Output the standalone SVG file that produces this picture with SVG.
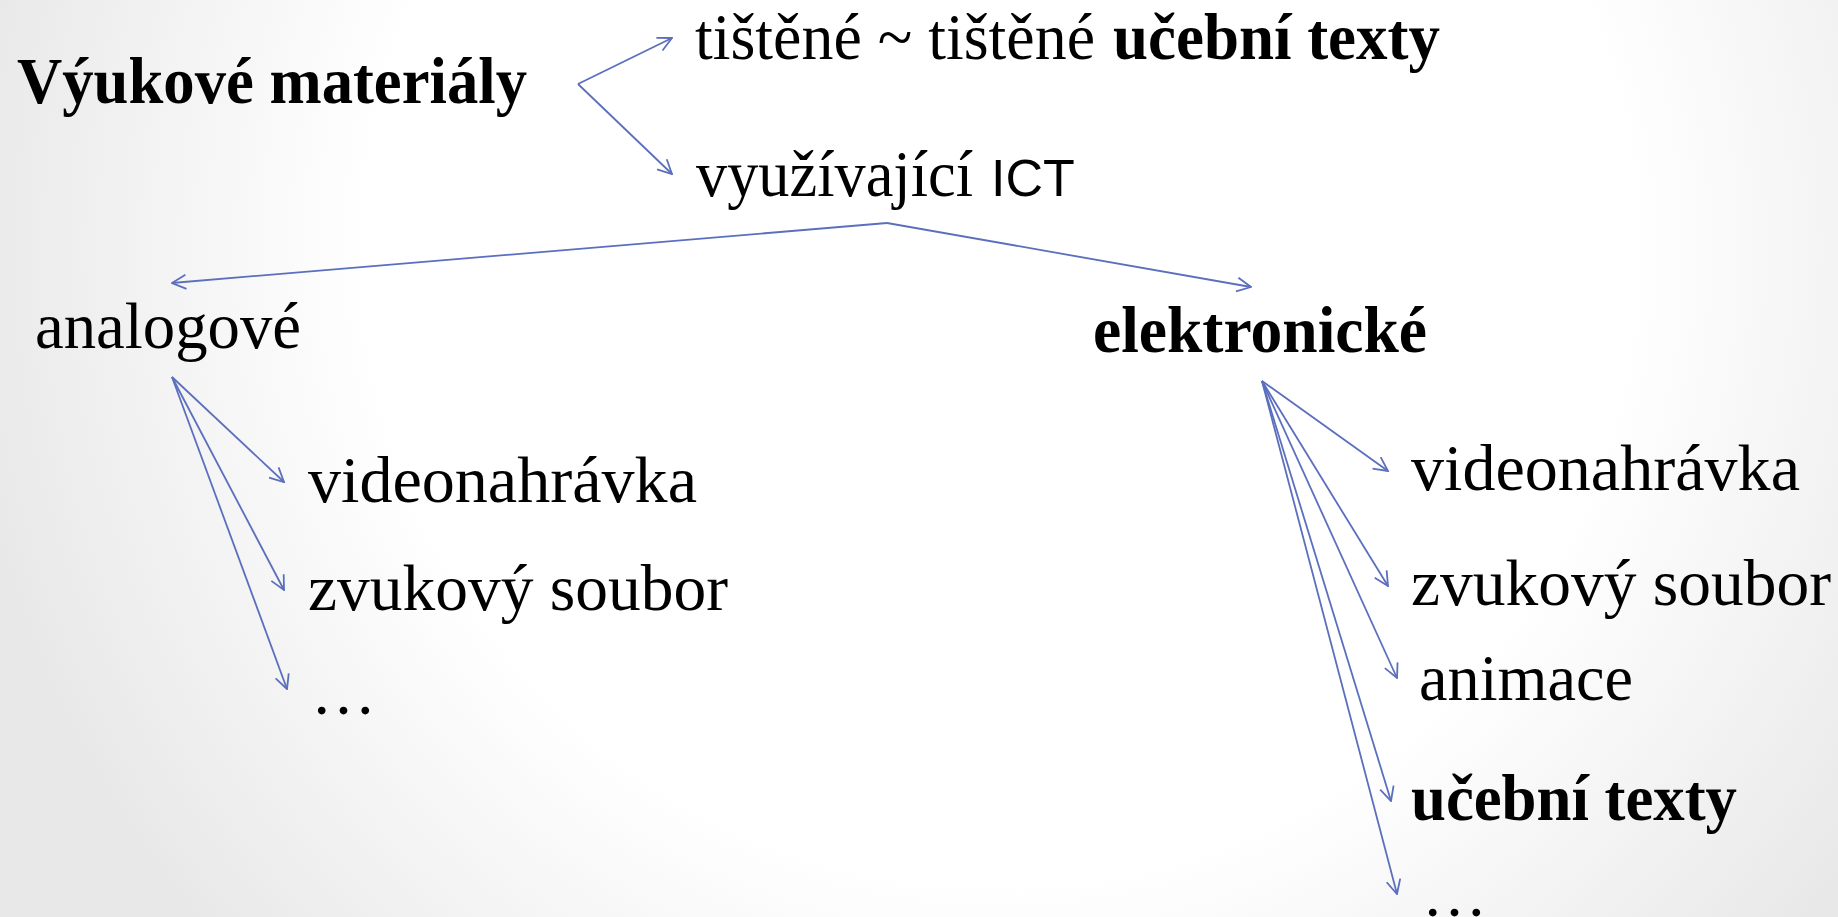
<svg xmlns="http://www.w3.org/2000/svg" width="1838" height="917" viewBox="0 0 1838 917">
<defs>
<radialGradient id="bg" gradientUnits="userSpaceOnUse" cx="1000" cy="250" r="1050">
<stop offset="0" stop-color="#ffffff"/>
<stop offset="0.6" stop-color="#ffffff"/>
<stop offset="1" stop-color="#e8e8e8"/>
</radialGradient>
<marker id="ah" viewBox="0 0 16 16" refX="15" refY="8" markerWidth="16" markerHeight="16" orient="auto" markerUnits="userSpaceOnUse">
<path d="M1,1 L15,8 L1,15" fill="none" stroke="#5b6fbd" stroke-width="1.8"/>
</marker>
<style>
.t{font-family:"Liberation Serif","Times New Roman",serif;font-size:65px;fill:#000}
.b{font-weight:bold}
.s{font-family:"Liberation Sans",Arial,sans-serif;font-size:52px;fill:#000}
.c{fill:none;stroke:#5b6fbd;stroke-width:1.8;marker-end:url(#ah)}
</style>
</defs>
<rect width="1838" height="917" fill="url(#bg)"/>
<g id="connectors">
<line class="c" x1="578" y1="84" x2="672" y2="38"/>
<line class="c" x1="578" y1="84" x2="672" y2="174"/>
<line class="c" x1="887" y1="223" x2="172" y2="283"/>
<line class="c" x1="887" y1="223" x2="1251" y2="287"/>
<line class="c" x1="172" y1="377" x2="284" y2="482"/>
<line class="c" x1="172" y1="377" x2="284" y2="590"/>
<line class="c" x1="172" y1="377" x2="287" y2="689"/>
<line class="c" x1="1262" y1="381" x2="1388" y2="471"/>
<line class="c" x1="1262" y1="381" x2="1388" y2="586"/>
<line class="c" x1="1262" y1="381" x2="1397" y2="678"/>
<line class="c" x1="1262" y1="381" x2="1391" y2="801"/>
<line class="c" x1="1262" y1="381" x2="1397" y2="894"/>
</g>
<g id="n-vyukove"><text class="t b" x="17" y="103" textLength="510" lengthAdjust="spacingAndGlyphs">Výukové materiály</text></g>
<g id="n-tistene"><text class="t" x="695" y="59" textLength="400" lengthAdjust="spacingAndGlyphs">tištěné ~ tištěné</text><text class="t b" x="1113" y="59" textLength="327" lengthAdjust="spacingAndGlyphs">učební texty</text></g>
<g id="n-ict"><text class="t" x="696" y="196" textLength="277" lengthAdjust="spacingAndGlyphs">využívající</text><text class="s" x="991" y="196">ICT</text></g>
<g id="n-analogove"><text class="t" x="35" y="348" textLength="266" lengthAdjust="spacingAndGlyphs">analogové</text></g>
<g id="n-elektronicke"><text class="t b" x="1093" y="352" textLength="334" lengthAdjust="spacingAndGlyphs">elektronické</text></g>
<g id="n-a-video"><text class="t" x="308" y="502" textLength="389" lengthAdjust="spacingAndGlyphs">videonahrávka</text></g>
<g id="n-a-zvuk"><text class="t" x="308" y="610" textLength="420" lengthAdjust="spacingAndGlyphs">zvukový soubor</text></g>
<g id="n-a-etc"><text class="t" x="311" y="714">…</text></g>
<g id="n-e-video"><text class="t" x="1411" y="490" textLength="389" lengthAdjust="spacingAndGlyphs">videonahrávka</text></g>
<g id="n-e-zvuk"><text class="t" x="1411" y="605" textLength="420" lengthAdjust="spacingAndGlyphs">zvukový soubor</text></g>
<g id="n-e-animace"><text class="t" x="1419" y="700" textLength="214" lengthAdjust="spacingAndGlyphs">animace</text></g>
<g id="n-e-texty"><text class="t b" x="1411" y="820" textLength="326" lengthAdjust="spacingAndGlyphs">učební texty</text></g>
<g id="n-e-etc"><text class="t" x="1422" y="916">…</text></g>
</svg>
